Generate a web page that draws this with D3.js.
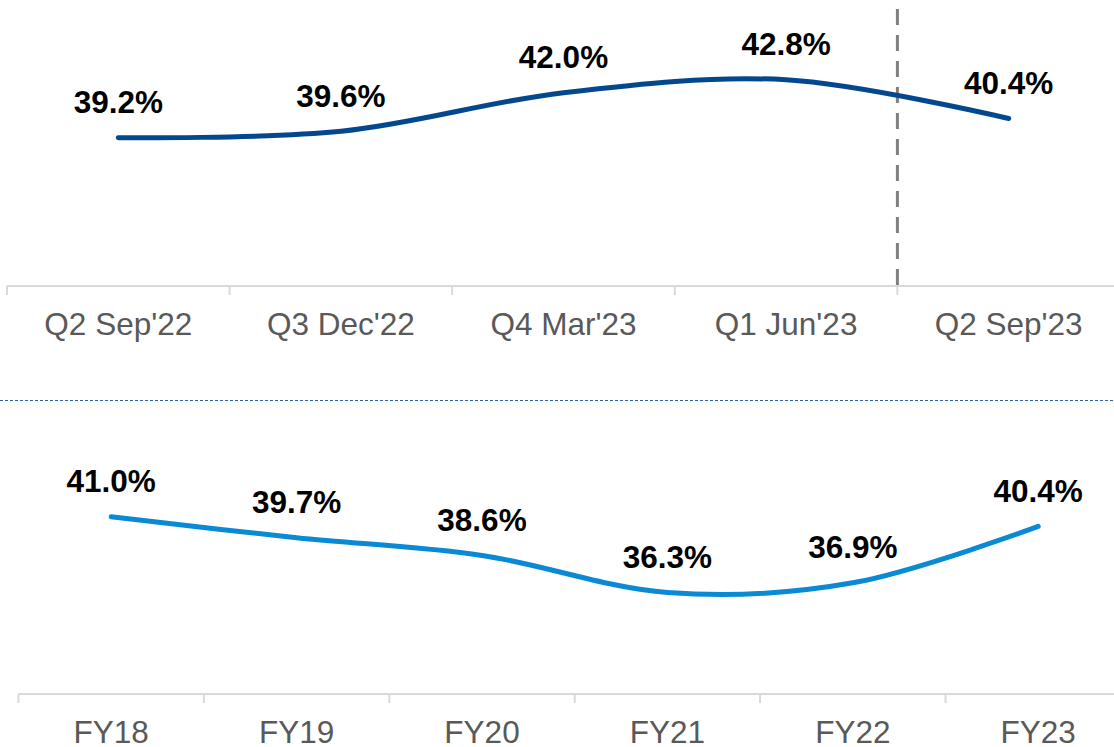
<!DOCTYPE html>
<html>
<head>
<meta charset="utf-8">
<script src="https://cdn.jsdelivr.net/npm/d3@7"></script>
<style>
  html, body { margin: 0; padding: 0; background: #fff; }
  svg { display: block; font-family: "Liberation Sans", Arial, sans-serif; }
</style>
</head>
<body>
<svg id="chart" width="1114" height="747"></svg>
<script>
// Quarterly data (top panel)
const quarterCategories = ["Q2 Sep'22", "Q3 Dec'22", "Q4 Mar'23", "Q1 Jun'23", "Q2 Sep'23"];
const quarterValues = [39.2, 39.6, 42.0, 42.8, 40.4];

// Annual data (bottom panel)
const yearCategories = ["FY18", "FY19", "FY20", "FY21", "FY22", "FY23"];
const yearValues = [41.0, 39.7, 38.6, 36.3, 36.9, 40.4];

// Shared value axis range (hidden)
const valueDomain = [30, 48];

const svg = d3.select("#chart");
const W = 1114;

function drawPanel(cfg) {
  const x = d3.scaleBand().domain(cfg.categories).range(cfg.xRange);
  const y = d3.scaleLinear().domain(valueDomain).range([cfg.axisY, cfg.axisY - 290]);
  const g = svg.append("g");

  // axis
  const axis = d3.axisBottom(x).tickSize(0).tickSizeOuter(0);
  const ag = g.append("g").attr("transform", `translate(0,${cfg.axisY})`).call(axis);
  ag.select(".domain").attr("stroke", "#d9d9d9").attr("stroke-width", 2)
    .attr("d", `M${cfg.xRange[0]},0H${W + 20}`);
  ag.selectAll(".tick line").remove();
  ag.selectAll(".tick text")
    .attr("y", 49).attr("dy", null)
    .attr("fill", "#595959")
    .style("font-size", "31.5px")
    .style("font-family", "'Liberation Sans', Arial, sans-serif");

  // boundary ticks
  const bounds = cfg.categories.map(d => x(d)).concat([x.range()[1]]);
  g.selectAll("line.bt").data(bounds).enter().append("line")
    .attr("class", "bt")
    .attr("x1", d => d).attr("x2", d => d)
    .attr("y1", cfg.axisY).attr("y2", cfg.axisY + 9)
    .attr("stroke", "#d9d9d9").attr("stroke-width", 2);

  if (cfg.divider) {
    const dx = x(cfg.categories[cfg.divider]);
    g.append("line")
      .attr("x1", dx).attr("x2", dx)
      .attr("y1", 9).attr("y2", cfg.axisY)
      .attr("stroke", "#808080").attr("stroke-width", 3)
      .attr("stroke-dasharray", "16,10");
  }

  const pts = cfg.values.map((v, i) => [x(cfg.categories[i]) + x.bandwidth() / 2, y(v)]);
  const line = d3.line().curve(d3.curveCardinal.tension(0));
  g.append("path")
    .attr("d", line(pts))
    .attr("fill", "none")
    .attr("stroke", cfg.color)
    .attr("stroke-width", 5)
    .attr("stroke-linecap", "round");

  g.selectAll("text.val").data(cfg.values).enter().append("text")
    .attr("class", "val")
    .attr("x", (d, i) => x(cfg.categories[i]) + x.bandwidth() / 2)
    .attr("y", d => y(d) - 24.5)
    .attr("text-anchor", "middle")
    .attr("fill", "#000")
    .style("font-weight", "bold")
    .style("font-size", "31.5px")
    .text(d => d.toFixed(1) + "%");
}

drawPanel({
  categories: quarterCategories,
  values: quarterValues,
  xRange: [7, 7 + 5 * 222.6],
  axisY: 286,
  color: "#03488e",
  divider: 4
});

drawPanel({
  categories: yearCategories,
  values: yearValues,
  xRange: [18.5, 18.5 + 6 * 185.4],
  axisY: 694,
  color: "#0a8ad5",
  divider: 0
});

// separator
svg.append("line")
  .attr("x1", 0).attr("x2", W)
  .attr("y1", 400.5).attr("y2", 400.5)
  .attr("stroke", "#2c62a6").attr("stroke-width", 1)
  .attr("stroke-dasharray", "3,2");
</script>
</body>
</html>
